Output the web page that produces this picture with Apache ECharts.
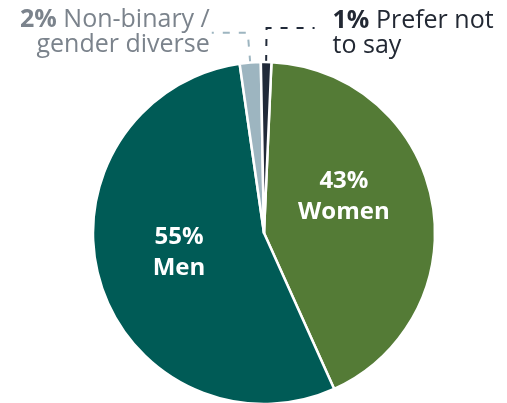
<!DOCTYPE html>
<html>
<head>
<meta charset="utf-8">
<script src="https://cdn.jsdelivr.net/npm/echarts@6/dist/echarts.min.js"></script>
<style>
  html, body { margin: 0; padding: 0; background: #fff; }
  #pie-chart { width: 507px; height: 403px; }
</style>
</head>
<body>
<div id="pie-chart"></div>
<script>
// data
var categories = ['Women', 'Men', 'Non-binary / gender diverse', 'Prefer not to say'];
var values = [43, 55, 2, 1];
var pieColors = ['#547b36', '#005b56', '#9db5c0', '#212a39'];

var font = '"Open Sans", "Noto Sans", sans-serif';

var insideLabel = function (offset) {
    return {
        position: 'inside',
        formatter: function (p) { return p.value + '%\n' + p.name; },
        color: '#ffffff',
        fontFamily: font,
        fontWeight: 'bold',
        fontSize: 24,
        lineHeight: 31,
        offset: offset
    };
};

var pieData = [];
for (var i = 0; i < categories.length; i++) {
    pieData.push({ name: categories[i], value: values[i], itemStyle: { color: pieColors[i] } });
}
pieData[0].label = insideLabel([-7, -20]);
pieData[1].label = insideLabel([0, -5]);

// small slices: outside labels with dashed leaders
pieData[2].label = {
    position: 'outside',
    formatter: '{b|2%} Non-binary /\ngender diverse',
    color: '#7b838c',
    fontFamily: font,
    fontSize: 25,
    lineHeight: 25,
    align: 'right',
    distanceToLabelLine: 2,
    rich: { b: { fontWeight: 'bold', fontFamily: font, fontSize: 25, color: '#7b838c' } }
};
pieData[2].labelLine = { show: true, length: 30, length2: 36, lineStyle: { color: '#9db5c0', type: [7, 9], width: 2 } };

pieData[3].label = {
    position: 'outside',
    formatter: '{b|1%} Prefer not\nto say',
    color: '#222833',
    fontFamily: font,
    fontSize: 25,
    lineHeight: 25,
    align: 'left',
    padding: [10, 0, 0, 0],
    distanceToLabelLine: 18,
    rich: { b: { fontWeight: 'bold', fontFamily: font, fontSize: 25, color: '#222833' } }
};
pieData[3].labelLine = { show: true, length: 34, length2: 48, lineStyle: { color: '#212a39', type: [7, 9], width: 2 } };

var myPieChart = echarts.init(document.querySelector('#pie-chart'));
myPieChart.setOption({
    animation: false,
    series: [{
        type: 'pie',
        center: [264, 233],
        radius: [0, 171],
        startAngle: 87.5,
        clockwise: true,
        avoidLabelOverlap: false,
        itemStyle: { borderColor: '#ffffff', borderWidth: 2.5 },
        labelLine: { show: false },
        data: pieData
    }]
});
</script>
</body>
</html>
